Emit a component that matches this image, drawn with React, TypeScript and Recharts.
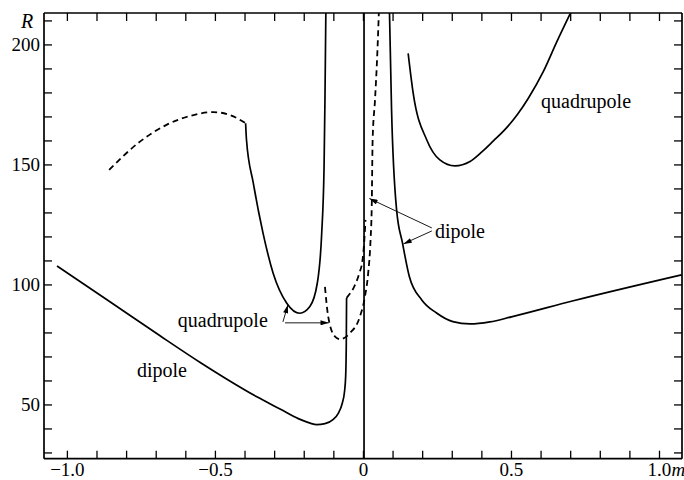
import React from "react";
import { LineChart, Line, XAxis, YAxis } from "recharts";

type Pt = [number, number];

// m, R pairs
const dipoleLeft: Pt[] = [
  [-1.035, 107.9], [-0.86, 93.3], [-0.687, 78.8], [-0.55, 67.6], [-0.45, 59.9],
  [-0.36, 53.4], [-0.28, 48.2], [-0.22, 44.3], [-0.18, 42.4], [-0.158, 41.8],
  [-0.13, 42.2], [-0.103, 43.9], [-0.085, 46.5], [-0.072, 50.5], [-0.064, 55.5],
  [-0.06, 62], [-0.058, 75], [-0.057, 94.6],
];
const dipoleCenterDashed: Pt[] = [
  [-0.057, 94.6], [-0.046, 96.3], [-0.034, 98.6], [-0.014, 104.9],
  [-0.003, 110.4], [0.003, 118.75], [0.007, 127.1],
];
const dipoleCenterSolid: Pt[] = [
  [0.002, 27.6], [0.002, 213.3],
];
const dipoleRight: Pt[] = [
  [0.088, 213.3], [0.095, 172.9], [0.112, 131.25], [0.132, 117.4], [0.155, 103.5],
  [0.197, 93.75], [0.247, 88.3], [0.302, 84.7], [0.36, 83.75], [0.427, 84.6],
  [0.5, 86.7], [0.709, 93.4], [1.075, 104.2],
];
const quadLeftDashed: Pt[] = [
  [-0.859, 147.9], [-0.755, 159.7], [-0.665, 166.7], [-0.586, 170.4],
  [-0.507, 172.0], [-0.451, 170.8], [-0.398, 167.4],
];
const quadLeft: Pt[] = [
  [-0.398, 167.4], [-0.395, 160.4], [-0.372, 142.4], [-0.339, 121.5], [-0.305, 104.9],
  [-0.259, 92.4], [-0.215, 88.2], [-0.181, 91.0], [-0.156, 100.7], [-0.141, 121.5],
  [-0.133, 149.3], [-0.13, 177.1], [-0.127, 213.3],
];
const quadCenterDashed: Pt[] = [
  [-0.13, 99.2], [-0.119, 86.8], [-0.096, 78.5], [-0.079, 77.4], [-0.046, 79.9],
  [-0.012, 86.8], [0.005, 95.1], [0.016, 104.9], [0.024, 118.75], [0.028, 132.6],
  [0.031, 160.4], [0.039, 177], [0.046, 194], [0.052, 213.3],
];
const quadRight: Pt[] = [
  [0.151, 196.5], [0.168, 179.9], [0.214, 160.4], [0.258, 152.1], [0.309, 149.6],
  [0.36, 151.4], [0.4, 155.4], [0.439, 160.0], [0.48, 165.0], [0.52, 171.0],
  [0.557, 177.8], [0.607, 188.75], [0.653, 201.25], [0.698, 212.9],
];

const xTicks = [
  -1.0, -0.9, -0.8, -0.7, -0.6, -0.5, -0.4, -0.3, -0.2, -0.1, 0,
  0.1, 0.2, 0.3, 0.4, 0.5, 0.6, 0.7, 0.8, 0.9, 1.0,
];
const xLabels = [-1.0, -0.5, 0, 0.5, 1.0];
const yTicks = [30, 40, 50, 60, 70, 80, 90, 100, 110, 120, 130, 140, 150, 160, 170, 180, 190, 200, 210];
const yLabels = [50, 100, 150, 200];

const X_DOMAIN: [number, number] = [-1.079, 1.076];
const Y_DOMAIN: [number, number] = [27.6, 213.3];

const W = 684;
const H = 480;
// plot box: left 44, top 13, right 682, bottom 458.7 ; each axis takes 1px outside it
const margin = { top: 12, right: 1, bottom: 20.3, left: 43 };
const plot = { left: 44, top: 13, right: 682, bottom: 458.7 };
const FONT = "'Liberation Serif', 'DejaVu Serif', serif";

const rows = (pts: Pt[]) => pts.map(([m, r]) => ({ m, r }));
const near = (a: number, list: number[]) => list.some((b) => Math.abs(a - b) < 1e-6);

// data -> pixel, same plot box as the chart (annotations only)
const px = (m: number) =>
  plot.left + ((m - X_DOMAIN[0]) / (X_DOMAIN[1] - X_DOMAIN[0])) * (plot.right - plot.left);
const py = (r: number) =>
  plot.top + ((Y_DOMAIN[1] - r) / (Y_DOMAIN[1] - Y_DOMAIN[0])) * (plot.bottom - plot.top);

const fmtX = (v: number) => {
  if (Math.abs(v) < 1e-6) return "0";
  return (v < 0 ? "\u2212" : "") + Math.abs(v).toFixed(1);
};

const BottomTick = (props: any) => {
  const { x, y, payload } = props;
  const v = payload.value;
  return (
    <g>
      <line x1={x} y1={y} x2={x} y2={y - 8} stroke="#000" strokeWidth={1.3} />
      {near(v, xLabels) && (
        <text x={x} y={y + 17.5} textAnchor="middle" fontFamily={FONT} fontSize={19} fill="#000">
          {fmtX(v)}
        </text>
      )}
      {near(v, [1.0]) && (
        <text x={x + 12} y={y + 17.5} textAnchor="start" fontFamily={FONT} fontSize={19} fontStyle="italic" fill="#000">
          m
        </text>
      )}
    </g>
  );
};

const TopTick = (props: any) => {
  const { x, y } = props;
  return <line x1={x} y1={y} x2={x} y2={y + 8} stroke="#000" strokeWidth={1.3} />;
};

const LeftTick = (props: any) => {
  const { x, y, payload } = props;
  const v = payload.value;
  return (
    <g>
      <line x1={x} y1={y} x2={x + 8} y2={y} stroke="#000" strokeWidth={1.3} />
      {near(v, yLabels) && (
        <text x={x - 4} y={y + 6.5} textAnchor="end" fontFamily={FONT} fontSize={19} fill="#000">
          {v}
        </text>
      )}
    </g>
  );
};

const RightTick = (props: any) => {
  const { x, y } = props;
  return <line x1={x} y1={y} x2={x - 8} y2={y} stroke="#000" strokeWidth={1.3} />;
};

const solid = { stroke: "#000", strokeWidth: 1.7, fill: "none" };
const dashed = { stroke: "#000", strokeWidth: 1.8, strokeDasharray: "6 4", fill: "none" };
const axisLine = { stroke: "#000", strokeWidth: 1.7 };

type Arrow = { from: Pt; to: Pt };
const arrows: Arrow[] = [
  { from: [0.231, 123.75], to: [0.02, 136.0] },
  { from: [0.231, 122.5], to: [0.135, 117.1] },
  { from: [-0.272, 84.6], to: [-0.255, 91.7] },
  { from: [-0.265, 84.2], to: [-0.117, 84.2] },
];

const Annotations = () => (
  <svg width={W} height={H} style={{ position: "absolute", left: 0, top: 0, pointerEvents: "none" }}>
    <defs>
      <marker id="ah" viewBox="0 0 10 6" refX="10" refY="3" markerWidth="9" markerHeight="5" orient="auto" markerUnits="userSpaceOnUse">
        <path d="M0,0 L10,3 L0,6 Z" fill="#000" />
      </marker>
    </defs>
    {arrows.map((a, i) => (
      <line
        key={i}
        x1={px(a.from[0])}
        y1={py(a.from[1])}
        x2={px(a.to[0])}
        y2={py(a.to[1])}
        stroke="#000"
        strokeWidth={0.9}
        markerEnd="url(#ah)"
      />
    ))}
    <g fontFamily={FONT} fontSize={20} fill="#000">
      <text x={px(0.6)} y={py(173.75)}>quadrupole</text>
      <text x={px(0.2416)} y={py(119.6)}>dipole</text>
      <text x={px(-0.627)} y={py(82.5)}>quadrupole</text>
      <text x={px(-0.765)} y={py(61.7)}>dipole</text>
      <text x={21} y={28} fontStyle="italic">R</text>
    </g>
  </svg>
);

export default function App() {
  return (
    <div style={{ position: "absolute", left: 0, top: 0, width: W, height: H, background: "#fff" }}>
      <LineChart width={W} height={H} margin={margin}>
        <XAxis xAxisId="b" dataKey="m" type="number" domain={X_DOMAIN} allowDataOverflow
          ticks={xTicks} interval={0} height={1} tickSize={0} tickMargin={0}
          tickLine={false} tick={BottomTick} axisLine={axisLine} />
        <XAxis xAxisId="t" orientation="top" dataKey="m" type="number" domain={X_DOMAIN} allowDataOverflow
          ticks={xTicks} interval={0} height={1} tickSize={0} tickMargin={0}
          tickLine={false} tick={TopTick} axisLine={axisLine} />
        <YAxis yAxisId="l" type="number" domain={Y_DOMAIN} allowDataOverflow
          ticks={yTicks} interval={0} width={1} tickSize={0} tickMargin={0}
          tickLine={false} tick={LeftTick} axisLine={axisLine} />
        <YAxis yAxisId="r" orientation="right" type="number" domain={Y_DOMAIN} allowDataOverflow
          ticks={yTicks} interval={0} width={1} tickSize={0} tickMargin={0}
          tickLine={false} tick={RightTick} axisLine={axisLine} />
        <Line xAxisId="b" yAxisId="l" data={rows(dipoleLeft)} dataKey="r" type="monotone" dot={false} activeDot={false} isAnimationActive={false} {...solid} />
        <Line xAxisId="b" yAxisId="l" data={rows(dipoleCenterDashed)} dataKey="r" type="monotone" dot={false} activeDot={false} isAnimationActive={false} {...dashed} />
        <Line xAxisId="b" yAxisId="l" data={rows(dipoleCenterSolid)} dataKey="r" type="linear" dot={false} activeDot={false} isAnimationActive={false} {...solid} />
        <Line xAxisId="b" yAxisId="l" data={rows(dipoleRight)} dataKey="r" type="monotone" dot={false} activeDot={false} isAnimationActive={false} {...solid} />
        <Line xAxisId="b" yAxisId="l" data={rows(quadLeftDashed)} dataKey="r" type="monotone" dot={false} activeDot={false} isAnimationActive={false} {...dashed} />
        <Line xAxisId="b" yAxisId="l" data={rows(quadLeft)} dataKey="r" type="monotone" dot={false} activeDot={false} isAnimationActive={false} {...solid} />
        <Line xAxisId="b" yAxisId="l" data={rows(quadCenterDashed)} dataKey="r" type="monotone" dot={false} activeDot={false} isAnimationActive={false} {...dashed} />
        <Line xAxisId="b" yAxisId="l" data={rows(quadRight)} dataKey="r" type="monotone" dot={false} activeDot={false} isAnimationActive={false} {...solid} />
      </LineChart>
      <Annotations />
    </div>
  );
}
